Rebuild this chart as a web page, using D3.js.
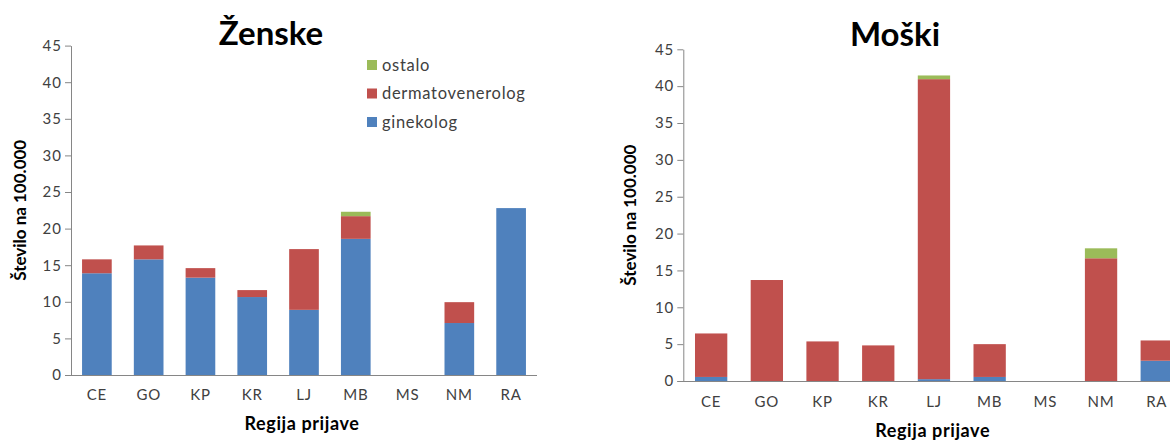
<!DOCTYPE html>
<html>
<head>
<meta charset="utf-8">
<script src="https://cdn.jsdelivr.net/npm/d3@7"></script>
<style>
  html, body { margin: 0; padding: 0; background: #fff; overflow: hidden; }
  svg { display: block; font-family: Lato, "Open Sans", sans-serif; }
</style>
</head>
<body>
<svg id="chart" width="1170" height="443"></svg>
<script>
// ---- data ----
const categories = ["CE", "GO", "KP", "KR", "LJ", "MB", "MS", "NM", "RA"];
const seriesNames = ["ginekolog", "dermatovenerolog", "ostalo"];
const seriesColors = ["#4F81BD", "#C0504D", "#9BBB59"];

const zenskeGinekolog        = [13.9, 15.8, 13.3, 10.65, 8.9, 18.6, 0, 7.1, 22.8];
const zenskeDermatovenerolog = [1.9, 1.9, 1.3, 0.95, 8.3, 3.1, 0, 2.85, 0];
const zenskeOstalo           = [0, 0, 0, 0, 0, 0.6, 0, 0, 0];

const moskiGinekolog        = [0.55, 0, 0, 0, 0.25, 0.55, 0, 0, 2.75];
const moskiDermatovenerolog = [5.9, 13.7, 5.37, 4.83, 40.7, 4.45, 0, 16.65, 2.75];
const moskiOstalo           = [0, 0, 0, 0, 0.5, 0, 0, 1.35, 0];

const yTicks = [0, 5, 10, 15, 20, 25, 30, 35, 40, 45];
const yTitle = "Število na 100.000";
const xTitle = "Regija prijave";

// ---- drawing ----
const svg = d3.select("#chart");
const axisColor = "#868686";
const textColor = "#404040";

function buildRows(g, d, o) {
  return categories.map((c, i) => ({ cat: c, ginekolog: g[i], dermatovenerolog: d[i], ostalo: o[i] }));
}

function drawPanel(cfg) {
  const rows = buildRows(cfg.g, cfg.d, cfg.o);
  const x = d3.scaleBand().domain(categories).range([cfg.x0, cfg.x1])
    .paddingInner(cfg.pad).paddingOuter(cfg.pad / 2);
  const y = d3.scaleLinear().domain([0, 45]).range([cfg.y0, cfg.yTop]);
  const stack = d3.stack().keys(seriesNames)(rows);
  const g = svg.append("g");

  // bars
  stack.forEach((layer, li) => {
    g.append("g").attr("fill", seriesColors[li])
      .selectAll("rect").data(layer.filter(dd => dd[1] - dd[0] > 0)).join("rect")
      .attr("x", dd => x(dd.data.cat))
      .attr("width", x.bandwidth())
      .attr("y", dd => y(dd[1]))
      .attr("height", dd => y(dd[0]) - y(dd[1]));
  });

  // y axis
  const ya = g.append("g").attr("transform", `translate(${cfg.x0},0)`)
    .call(d3.axisLeft(y).tickValues(yTicks).tickSize(6).tickPadding(3).tickSizeOuter(0));
  ya.select(".domain").attr("stroke", axisColor);
  ya.selectAll(".tick line").attr("stroke", axisColor);
  ya.selectAll(".tick text").attr("fill", textColor).style("font-size", "15px")
    .style("letter-spacing", "1px").style("font-family", "Lato, sans-serif");

  // x axis
  const xa = g.append("g").attr("transform", `translate(0,${cfg.y0})`)
    .call(d3.axisBottom(x).tickSize(0).tickPadding(cfg.xPad).tickSizeOuter(0));
  xa.select(".domain").attr("stroke", axisColor).attr("d", `M${cfg.x0 - 6},0.5H${cfg.x1}`);
  xa.selectAll(".tick text").attr("fill", textColor).style("font-size", "15px")
    .style("letter-spacing", "0.8px").style("font-family", "Lato, sans-serif");

  // titles
  g.append("text").attr("x", cfg.titleX).attr("y", cfg.titleY)
    .attr("text-anchor", "middle").style("font-size", "33px").style("font-weight", "bold")
    .attr("fill", "#000").text(cfg.title);
  g.append("text").attr("transform", `translate(${cfg.yTitleX},${(cfg.y0 + cfg.yTop) / 2}) rotate(-90)`)
    .attr("text-anchor", "middle").style("font-size", "17px").style("font-weight", "bold")
    .attr("fill", "#000").text(yTitle);
  g.append("text").attr("x", (cfg.x0 + cfg.xTitleRef) / 2).attr("y", cfg.xTitleY)
    .attr("text-anchor", "middle").style("font-size", "18px").style("font-weight", "bold")
    .style("letter-spacing", "0.6px").attr("fill", "#000").text(xTitle);
  return { x, y };
}

drawPanel({
  title: "Ženske", g: zenskeGinekolog, d: zenskeDermatovenerolog, o: zenskeOstalo,
  x0: 71, x1: 537, y0: 375, yTop: 45.6, pad: 0.427, xPad: 14,
  titleX: 271, titleY: 45, yTitleX: 26, xTitleRef: 533, xTitleY: 430
});

drawPanel({
  title: "Moški", g: moskiGinekolog, d: moskiDermatovenerolog, o: moskiOstalo,
  x0: 683.3, x1: 1184.6, y0: 381, yTop: 49.3, pad: 0.42, xPad: 15,
  titleX: 895, titleY: 46, yTitleX: 636, xTitleRef: 1182, xTitleY: 437
});

// legend (left panel)
const legendItems = ["ostalo", "dermatovenerolog", "ginekolog"];
const legendY = d3.scalePoint().domain(legendItems).range([65, 122]);
const lg = svg.append("g");
legendItems.forEach(name => {
  const idx = seriesNames.indexOf(name);
  lg.append("rect").attr("x", 367).attr("y", legendY(name) - 5).attr("width", 10).attr("height", 10)
    .attr("fill", seriesColors[idx]);
  lg.append("text").attr("x", 382).attr("y", legendY(name)).attr("dy", "0.35em")
    .style("font-size", "16.5px").style("letter-spacing", "0.7px").attr("fill", textColor).text(name);
});
</script>
</body>
</html>
